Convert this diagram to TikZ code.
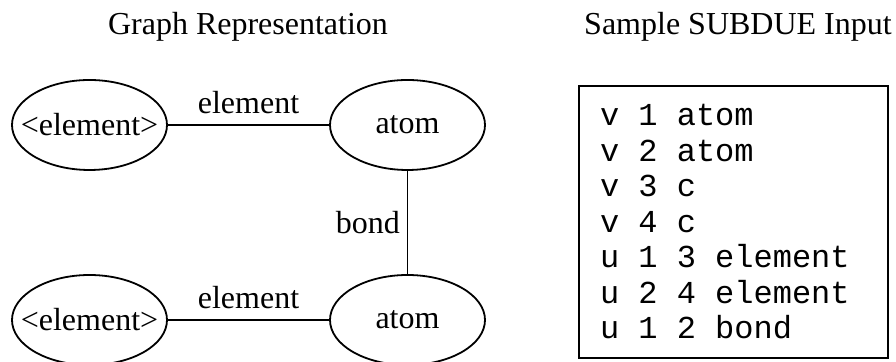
\documentclass[tikz,border=0pt]{standalone}
\usepackage{fontspec}
\setmainfont{Liberation Serif}
\setmonofont{Liberation Mono}
\usetikzlibrary{shapes.geometric,positioning}
\newcommand{\blank}{\hphantom{0}}

\begin{document}
\begin{tikzpicture}
[x=0.5pt,y=-0.5pt,node distance=159pt,font=\fontsize{16}{19}\selectfont,
 vertex/.style={ellipse,draw=black,line width=0.9pt,minimum width=77.5pt,minimum height=45pt,inner xsep=-7.5pt,inner ysep=0pt}]
\useasboundingbox (0,0) rectangle (896,362);
\node (graphtitle) at (248,27) {Graph Representation};
\node (inputtitle) at (738,27) {Sample SUBDUE Input};
\node[vertex] (el1) at (89.5,125) {<element>};
\node[vertex] (at1) [right of=el1] {atom};
\node[vertex] (at2) [below of=at1,node distance=97.5pt] {atom};
\node[vertex] (el2) [left of=at2] {<element>};
\path[line width=0.9pt] (el1) edge node[above=2pt] {element} (at1)
  (at1) edge node[left] {bond} (at2)
  (el2) edge node[above=2pt] {element} (at2);
\node[draw=black,line width=1pt,font=\fontsize{16}{17.75}\selectfont\ttfamily,align=left,
  text width=133.5pt,inner xsep=10.5pt,minimum width=154.5pt,minimum height=136pt]
  (input) at (733.5,222) {v\blank1\blank atom\\v\blank2\blank atom\\v\blank3\blank c\\v\blank4\blank c\\
  u\blank1\blank3\blank element\\u\blank2\blank4\blank element\\u\blank1\blank2\blank bond};
\end{tikzpicture}
\end{document}
